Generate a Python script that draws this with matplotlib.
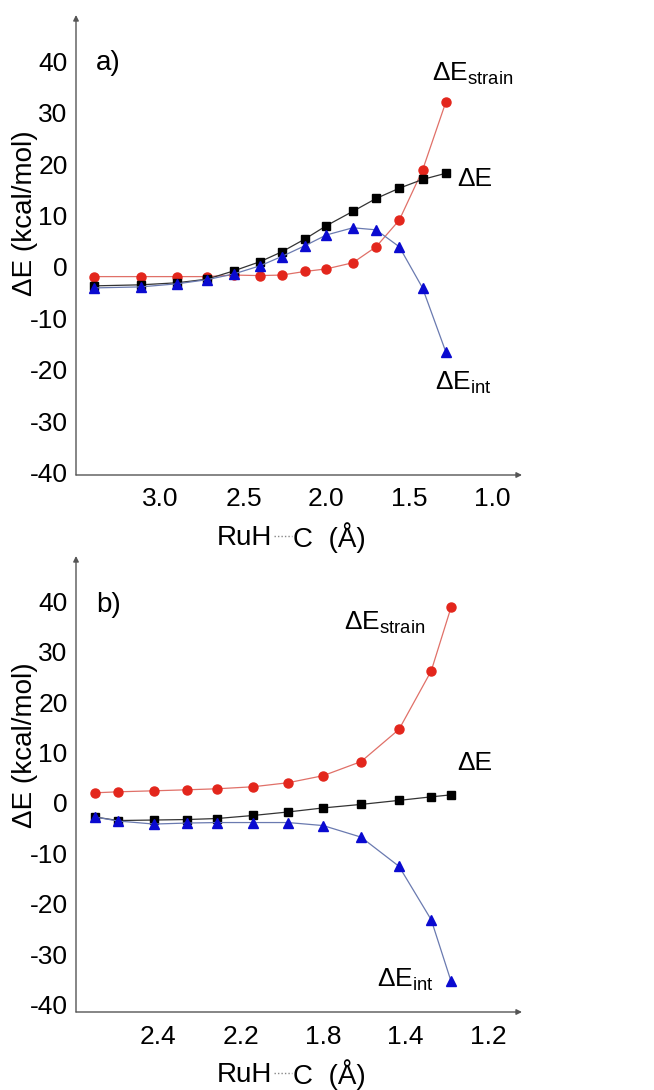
import numpy as np
import matplotlib
matplotlib.use("Agg")
import matplotlib.pyplot as plt

plt.rcParams["font.family"] = ["Liberation Sans", "DejaVu Sans"]
plt.rcParams["mathtext.fontset"] = "custom"
plt.rcParams["mathtext.rm"] = "Liberation Sans"

# panel a) data
a_x = [3.40, 3.12, 2.90, 2.72, 2.56, 2.40, 2.27, 2.13, 2.00, 1.84, 1.70, 1.56, 1.42, 1.28]
a_strain = [-1.9, -1.9, -1.9, -1.9, -1.6, -1.7, -1.6, -0.9, -0.4, 0.8, 3.9, 9.1, 18.8, 32.0]
a_total = [-3.7, -3.5, -3.1, -2.4, -0.8, 1.0, 2.9, 5.4, 8.0, 10.8, 13.3, 15.3, 17.0, 18.2]
a_int = [-4.1, -3.9, -3.3, -2.5, -1.4, 0.2, 2.0, 4.1, 6.2, 7.6, 7.2, 3.9, -4.1, -16.5]
a_ticks = [3.0, 2.5, 2.0, 1.5, 1.0]
a_tick_labels = ["3.0", "2.5", "2.0", "1.5", "1.0"]

# panel b) data (x axis is evenly spaced, labels as printed in the original)
b_x = [2.553, 2.497, 2.410, 2.330, 2.257, 2.170, 2.085, 2.000, 1.908, 1.816, 1.738, 1.690]
b_strain = [2.0, 2.2, 2.4, 2.6, 2.8, 3.2, 4.0, 5.4, 8.2, 14.6, 26.2, 38.8]
b_total = [-2.8, -3.5, -3.4, -3.3, -3.1, -2.5, -1.8, -1.0, -0.3, 0.5, 1.2, 1.6]
b_int = [-2.8, -3.6, -4.2, -4.0, -3.9, -3.9, -3.9, -4.5, -6.8, -12.6, -23.2, -35.4]
b_ticks = [2.4, 2.2, 2.0, 1.8, 1.6]
b_tick_labels = ["2.4", "2.2", "1.8", "1.4", "1.2"]

y_ticks = [40, 30, 20, 10, 0, -10, -20, -30, -40]

W, H = 654, 1090
fig = plt.figure(figsize=(W / 100, H / 100), dpi=100)

RED = "#e3261c"
BLUE = "#0a0ad0"
FS = 19


def px_axes(left, top, right, bottom):
    return fig.add_axes([left / W, 1 - bottom / H, (right - left) / W, (bottom - top) / H])


def draw_panel(ax, x, strain, total, inter, xlim, ylim, ticks, tick_labels):
    ax.plot(x, strain, color="#e07068", lw=0.9, marker="o", ms=6.5, mfc=RED, mec=RED)
    ax.plot(x, total, color="#333333", lw=0.9, marker="s", ms=5.5, mfc="black", mec="black")
    ax.plot(x, inter, color="#6a7ab0", lw=0.9, marker="^", ms=7, mfc=BLUE, mec=BLUE)
    ax.set_xlim(*xlim)
    ax.set_ylim(*ylim)
    ax.set_xticks(ticks)
    ax.set_xticklabels(tick_labels)
    ax.set_yticks(y_ticks)
    ax.set_yticklabels([str(v) for v in y_ticks])
    ax.tick_params(length=0, labelsize=FS, pad=6)
    ax.tick_params(axis="x", pad=9)
    for s in ["top", "right", "left", "bottom"]:
        ax.spines[s].set_visible(False)
    kw = dict(arrowprops=dict(arrowstyle="-|>", color="#555555", lw=1.0,
                              mutation_scale=8, shrinkA=0, shrinkB=0),
              xycoords="axes fraction", textcoords="axes fraction")
    ax.annotate("", xy=(1, 0), xytext=(0, 0), **kw)
    ax.annotate("", xy=(0, 1), xytext=(0, 0), **kw)
    ax.patch.set_alpha(0)


def draw_xlabel(y):
    yf = 1 - y / H
    fig.text(272 / W, yf, "RuH", ha="right", va="center", fontsize=FS + 1)
    fig.text(293 / W, yf, "C  (Å)", ha="left", va="center", fontsize=FS + 1)
    fig.add_artist(plt.Line2D([274 / W, 292 / W], [yf + 0.002, yf + 0.002],
                              color="#888888", lw=1.0, ls=(0, (1, 1.5))))


# panel a
ax1 = px_axes(76, 15, 522, 475)
draw_panel(ax1, a_x, a_strain, a_total, a_int, (3.51, 0.82), (-40.5, 49),
           a_ticks, a_tick_labels)
ax1.text(0.045, 0.896, "a)", transform=ax1.transAxes, fontsize=FS + 1, va="center")
ax1.text(1.115, 37.5, r"ΔE$_{\mathrm{strain}}$", fontsize=FS, va="center", ha="center")
ax1.text(1.212, 17.0, "ΔE", fontsize=FS, va="center", ha="left")
ax1.text(1.176, -22.5, r"ΔE$_{\mathrm{int}}$", fontsize=FS, va="center", ha="center")
fig.text(25 / W, 1 - 213 / H, "ΔE (kcal/mol)", rotation=90, ha="center",
         va="center", fontsize=FS + 1)
draw_xlabel(538)

# panel b
ax2 = px_axes(76, 556, 522, 1012)
draw_panel(ax2, b_x, b_strain, b_total, b_int, (2.599, 1.518), (-41.5, 49),
           b_ticks, b_tick_labels)
ax2.text(0.045, 0.893, "b)", transform=ax2.transAxes, fontsize=FS + 1, va="center")
ax2.text(1.850, 35.7, r"ΔE$_{\mathrm{strain}}$", fontsize=FS, va="center", ha="center")
ax2.text(1.675, 8.0, "ΔE", fontsize=FS, va="center", ha="left")
ax2.text(1.800, -35.1, r"ΔE$_{\mathrm{int}}$", fontsize=FS, va="center", ha="center")
fig.text(25 / W, 1 - 745 / H, "ΔE (kcal/mol)", rotation=90, ha="center",
         va="center", fontsize=FS + 1)
draw_xlabel(1075)

fig.savefig("out.png", dpi=100)
